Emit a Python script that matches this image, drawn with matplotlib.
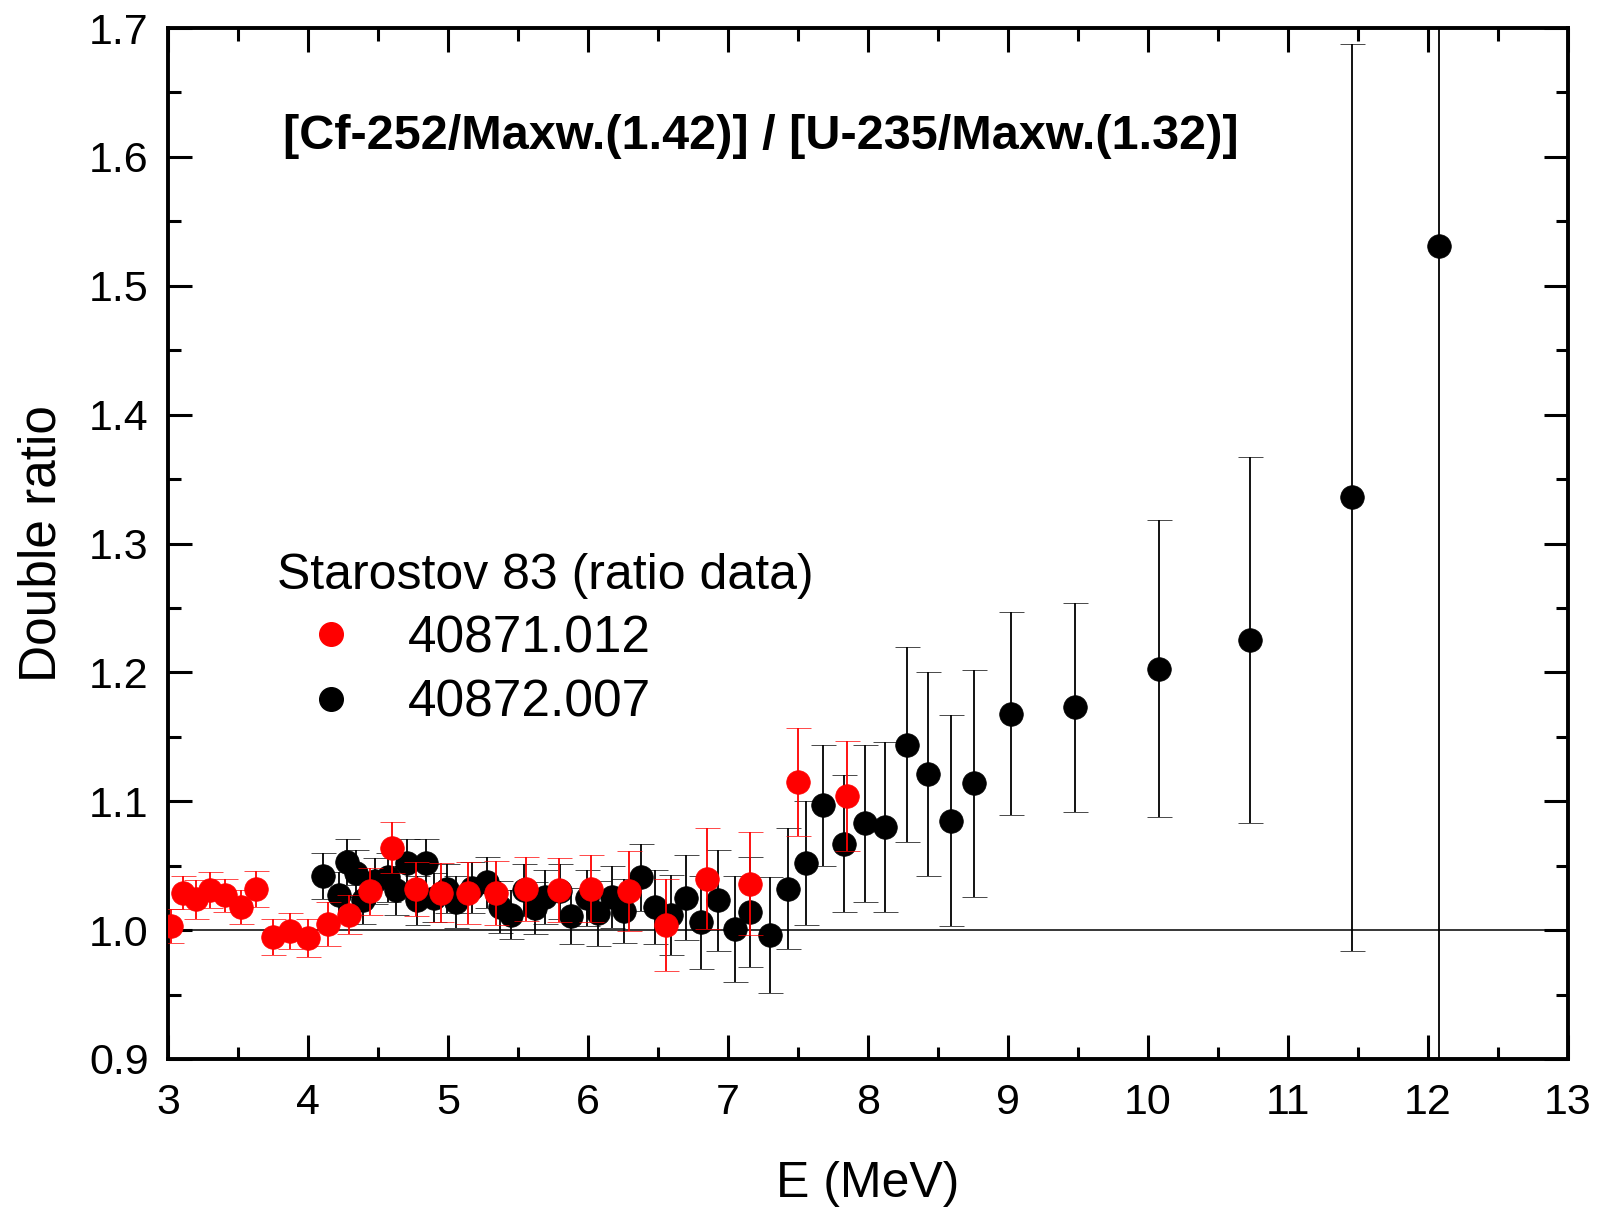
import matplotlib
matplotlib.use("Agg")
import matplotlib.pyplot as plt
from matplotlib.ticker import MultipleLocator
from matplotlib.lines import Line2D

plt.rcParams['font.family'] = ['Liberation Sans', 'DejaVu Sans']

# Series 40871.012 (red)
red_E = [3.02, 3.11, 3.20, 3.30, 3.41, 3.52, 3.63, 3.75, 3.87, 4.00, 4.14, 4.29, 4.44,
         4.60, 4.77, 4.95, 5.14, 5.34, 5.56, 5.79, 6.02, 6.29, 6.56, 6.85, 7.16, 7.50, 7.85]
red_y = [1.003, 1.029, 1.024, 1.031, 1.027, 1.018, 1.032, 0.995, 0.999, 0.994, 1.005, 1.012, 1.030,
         1.064, 1.032, 1.029, 1.029, 1.029, 1.032, 1.031, 1.032, 1.030, 1.004, 1.040, 1.036, 1.115, 1.104]
red_err = [0.013, 0.013, 0.015, 0.014, 0.013, 0.013, 0.014, 0.014, 0.014, 0.015, 0.017, 0.015, 0.018,
           0.020, 0.021, 0.023, 0.024, 0.025, 0.025, 0.025, 0.026, 0.031, 0.036, 0.039, 0.040, 0.042, 0.043]

# Series 40872.007 (black)
blk_E = [4.11, 4.22, 4.28, 4.34, 4.39, 4.48, 4.57, 4.63, 4.71, 4.78, 4.84, 4.90, 4.99, 5.06,
         5.17, 5.28, 5.37, 5.45, 5.54, 5.62, 5.69, 5.80, 5.88, 5.99, 6.07, 6.17, 6.26, 6.38,
         6.48, 6.59, 6.70, 6.81, 6.93, 7.05, 7.16, 7.30, 7.43, 7.56, 7.68, 7.83, 7.98, 8.12,
         8.28, 8.43, 8.59, 8.76, 9.02, 9.48, 10.08, 10.73, 11.46, 12.08]
blk_y = [1.042, 1.027, 1.053, 1.044, 1.023, 1.038, 1.041, 1.031, 1.052, 1.023, 1.052, 1.025, 1.032, 1.022,
         1.033, 1.037, 1.018, 1.012, 1.031, 1.017, 1.026, 1.030, 1.011, 1.025, 1.013, 1.026, 1.015, 1.041,
         1.018, 1.012, 1.025, 1.006, 1.023, 1.001, 1.014, 0.996, 1.032, 1.052, 1.097, 1.067, 1.083, 1.080,
         1.144, 1.121, 1.085, 1.114, 1.168, 1.173, 1.203, 1.225, 1.336, 1.531]
blk_err = [0.018, 0.018, 0.018, 0.018, 0.018, 0.018, 0.019, 0.019, 0.019, 0.019, 0.019, 0.019, 0.019, 0.020,
           0.020, 0.020, 0.020, 0.019, 0.020, 0.020, 0.021, 0.021, 0.022, 0.022, 0.025, 0.024, 0.025, 0.026,
           0.029, 0.031, 0.033, 0.036, 0.039, 0.041, 0.043, 0.045, 0.047, 0.048, 0.047, 0.053, 0.061, 0.066,
           0.076, 0.079, 0.082, 0.088, 0.079, 0.081, 0.115, 0.142, 0.352, 0.800]

title_text = "[Cf-252/Maxw.(1.42)] / [U-235/Maxw.(1.32)]"
legend_title = "Starostov 83 (ratio data)"
labels = ["40871.012", "40872.007"]

fig = plt.figure(figsize=(16.05, 12.09), dpi=100)
ax = fig.add_axes([0.1047, 0.1241, 0.8723, 0.8527])

ax.axhline(1.0, color='black', lw=1.1, zorder=1)

ax.errorbar(blk_E, blk_y, yerr=blk_err, fmt='o', color='black', ms=17,
            markeredgecolor='black', markeredgewidth=0.5,
            ecolor='black', elinewidth=1.3, capsize=9, capthick=1.5, zorder=2)
ax.errorbar(red_E, red_y, yerr=red_err, fmt='o', color='#ff0000', ms=17,
            markeredgecolor='#ff0000', markeredgewidth=0.5,
            ecolor='#ff0000', elinewidth=1.3, capsize=9, capthick=1.5, zorder=3)

ax.set_xlim(3, 13)
ax.set_ylim(0.9, 1.7)
ax.xaxis.set_major_locator(MultipleLocator(1))
ax.xaxis.set_minor_locator(MultipleLocator(0.5))
ax.yaxis.set_major_locator(MultipleLocator(0.1))
ax.yaxis.set_minor_locator(MultipleLocator(0.05))
ax.yaxis.set_major_formatter(matplotlib.ticker.FormatStrFormatter('%.1f'))

ax.tick_params(which='both', direction='in', top=True, right=True, width=2.2, labelsize=31)
ax.tick_params(axis='x', which='major', length=17, pad=17)
ax.tick_params(axis='y', which='major', length=17, pad=14)
ax.tick_params(which='minor', length=9)
for s in ax.spines.values():
    s.set_linewidth(2.8)

ax.set_xlabel("E (MeV)", fontsize=36, labelpad=28)
ax.set_ylabel("Double ratio", fontsize=37, labelpad=16)

ax.text(0.082, 0.895, title_text, transform=ax.transAxes, fontsize=35, fontweight='bold',
        ha='left', va='center')

handles = [Line2D([], [], marker='o', ls='none', color='#ff0000', ms=17),
           Line2D([], [], marker='o', ls='none', color='black', ms=17)]
leg = ax.legend(handles, labels, title=legend_title, loc='upper left',
                bbox_to_anchor=(0.078, 0.491), frameon=False, fontsize=37,
                title_fontsize=36, alignment='left', handletextpad=0.45,
                handlelength=2.1, borderaxespad=0, borderpad=0, labelspacing=0.3)

fig.savefig("out.png", dpi=100)
